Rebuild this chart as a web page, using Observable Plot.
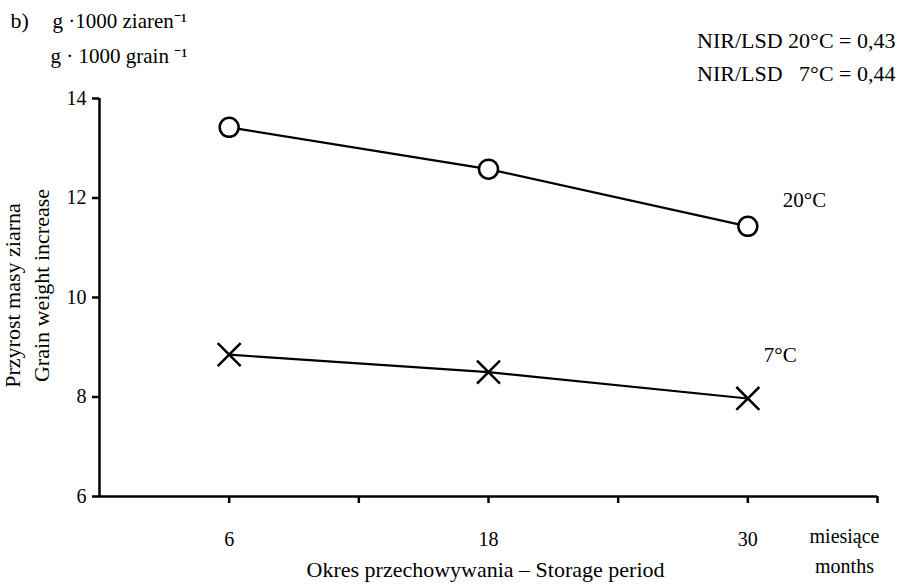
<!DOCTYPE html>
<html><head><meta charset="utf-8">
<script src="https://cdn.jsdelivr.net/npm/d3@7"></script>
<script src="https://cdn.jsdelivr.net/npm/@observablehq/plot@0.6"></script>
<style>
html,body{margin:0;padding:0;background:#fff;}
#chart svg [aria-label$="-axis tick"]{stroke-width:2.5px;}
#chart svg .tick line{stroke-width:2.5px;}
</style></head><body><div id="chart"></div>
<script>
const months = [6, 18, 30];
const grain20 = [13.42, 12.58, 11.43];
const grain7 = [8.85, 8.50, 7.97];
const seriesNames = ["20°C", "7°C"];
const xTicks = [6, 12, 18, 24, 30, 36];
const xTickLabels = {6: "6", 18: "18", 30: "30"};
const yTicks = [6, 8, 10, 12, 14];
const unitLabels = ["miesiące", "months"];
const yTitle = ["Przyrost masy ziarna", "Grain weight increase"];
const xTitle = "Okres przechowywania – Storage period";
const unitTitle = ["g ·1000 ziaren⁻¹", "g · 1000 grain ⁻¹"];
const lsdLines = ["NIR/LSD 20°C = 0,43", "NIR/LSD\u00a0\u00a0\u00a07°C = 0,44"];
const panel = "b)";

const rows20 = months.map((m, i) => ({month: m, value: grain20[i], series: seriesNames[0]}));
const rows7 = months.map((m, i) => ({month: m, value: grain7[i], series: seriesNames[1]}));
const rows = rows20.concat(rows7);
const serif = "'Liberation Serif', 'Times New Roman', serif";

const chart = Plot.plot({
  width: 906, height: 588,
  marginLeft: 99, marginRight: 29, marginTop: 98, marginBottom: 92,
  style: {fontFamily: serif, fontSize: "20px", color: "black", background: "white", overflow: "visible"},
  x: {domain: [0, 36], ticks: xTicks, tickSize: 7, tickPadding: 28, tickFormat: d => xTickLabels[d] ?? "", label: null},
  y: {domain: [6, 14], ticks: yTicks, tickSize: 7, tickPadding: 6, label: null},
  marks: [
    Plot.ruleY([6], {stroke: "black", strokeWidth: 2.5}),
    Plot.ruleX([0], {stroke: "black", strokeWidth: 2.5}),
    Plot.line(rows, {x: "month", y: "value", z: "series", stroke: "black", strokeWidth: 2.2}),
    Plot.dot(rows20, {x: "month", y: "value", symbol: "circle", r: 9.5, fill: "white", stroke: "black", strokeWidth: 2.5}),
    Plot.dot(rows7, {x: "month", y: "value", symbol: "times", r: 10.5, stroke: "black", strokeWidth: 2.5}),
    Plot.text(rows20, Plot.selectLast({x: "month", y: "value", text: "series", textAnchor: "start", lineAnchor: "bottom", dx: 35, dy: -19, fontSize: 21})),
    Plot.text(rows7, Plot.selectLast({x: "month", y: "value", text: "series", textAnchor: "start", lineAnchor: "bottom", dx: 16, dy: -36, fontSize: 21})),
    Plot.text([unitLabels[0]], {x: () => xTicks[xTicks.length - 1], y: () => yTicks[0], text: d => d, textAnchor: "middle", lineAnchor: "bottom", dx: -33, dy: 46, fontSize: 20}),
    Plot.text([unitLabels[1]], {x: () => xTicks[xTicks.length - 1], y: () => yTicks[0], text: d => d, textAnchor: "middle", lineAnchor: "bottom", dx: -33, dy: 76, fontSize: 20}),
    Plot.text([xTitle], {frameAnchor: "bottom", text: d => d, textAnchor: "middle", lineAnchor: "bottom", dx: -3, dy: 80, fontSize: 22}),
    Plot.text([yTitle[0]], {frameAnchor: "left", text: d => d, rotate: -90, textAnchor: "middle", lineAnchor: "bottom", dx: -80, dy: -2, fontSize: 22}),
    Plot.text([yTitle[1]], {frameAnchor: "left", text: d => d, rotate: -90, textAnchor: "middle", lineAnchor: "bottom", dx: -51, dy: -12, fontSize: 22}),
    Plot.text([panel], {frameAnchor: "top-left", text: d => d, textAnchor: "start", lineAnchor: "bottom", dx: -89, dy: -71, fontSize: 22}),
    Plot.text([unitTitle[0]], {frameAnchor: "top-left", text: d => d, textAnchor: "start", lineAnchor: "bottom", dx: -47, dy: -71, fontSize: 21}),
    Plot.text([unitTitle[1]], {frameAnchor: "top-left", text: d => d, textAnchor: "start", lineAnchor: "bottom", dx: -49, dy: -36, fontSize: 21}),
    Plot.text([lsdLines[0]], {frameAnchor: "top-right", text: d => d, textAnchor: "end", lineAnchor: "bottom", dx: 18, dy: -51, fontSize: 22}),
    Plot.text([lsdLines[1]], {frameAnchor: "top-right", text: d => d, textAnchor: "end", lineAnchor: "bottom", dx: 18, dy: -18, fontSize: 22})
  ]
});
document.getElementById("chart").appendChild(chart);
</script></body></html>
